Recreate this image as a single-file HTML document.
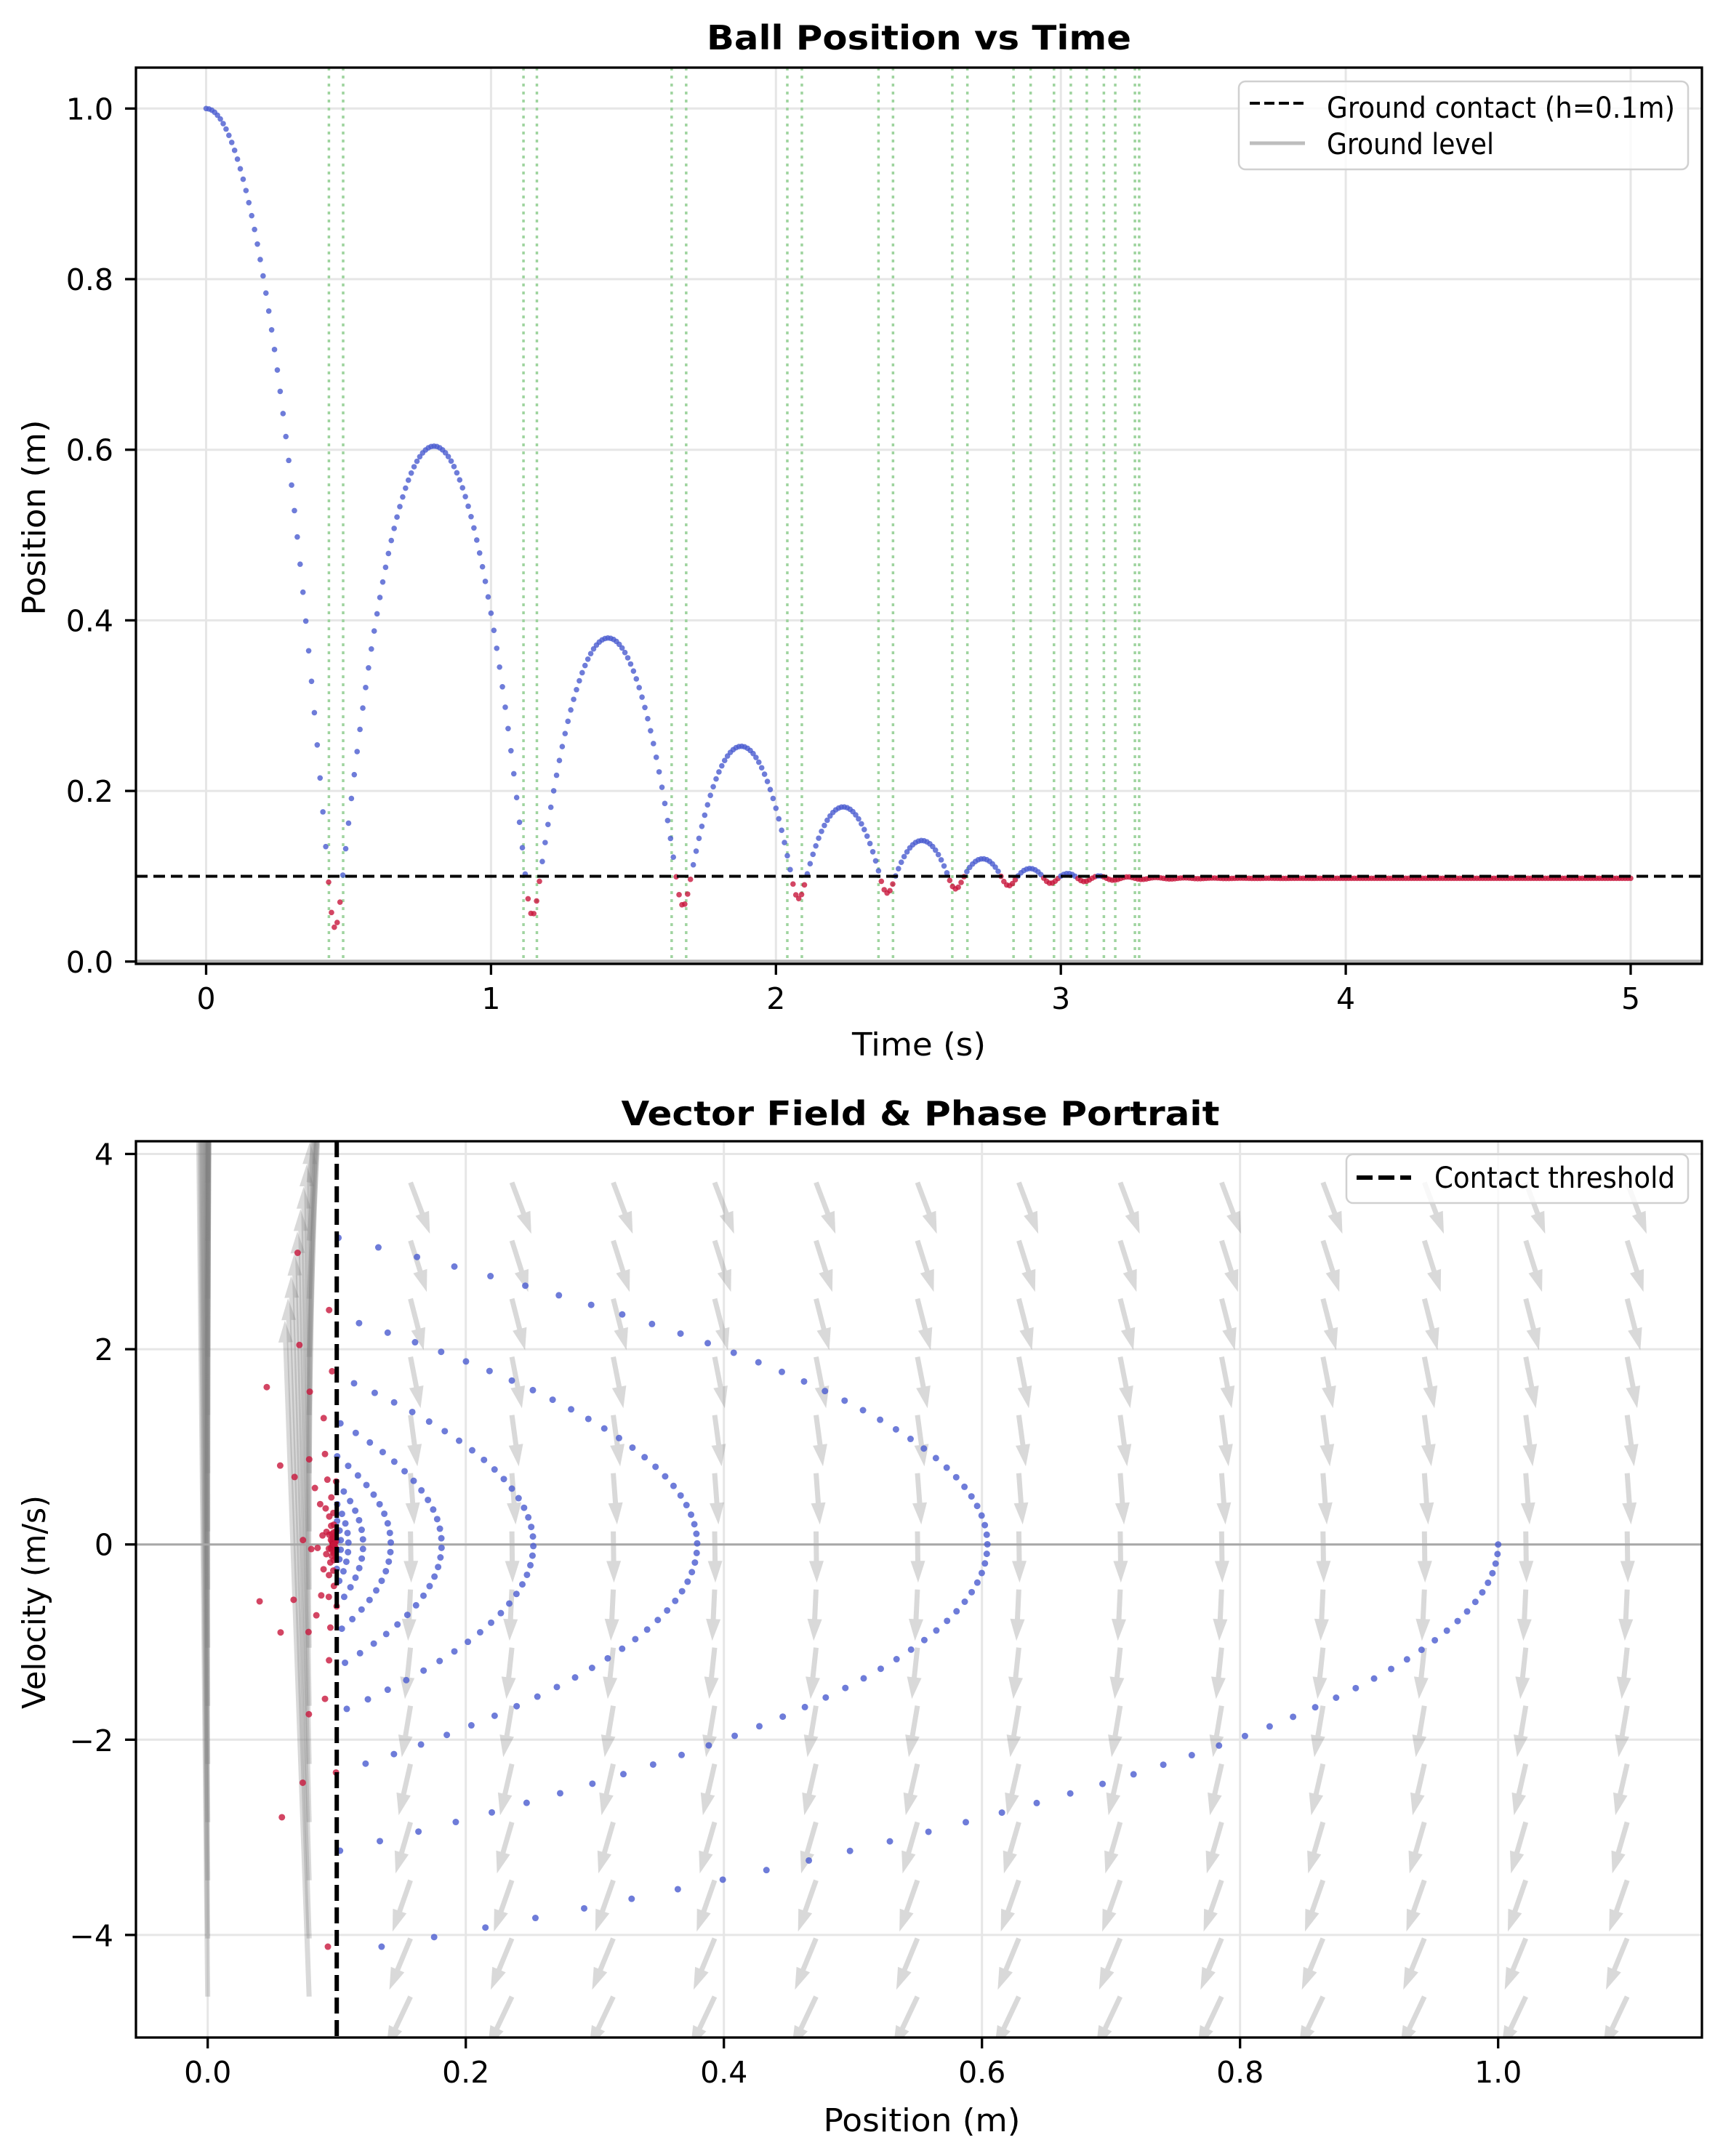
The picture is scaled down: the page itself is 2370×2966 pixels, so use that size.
<!DOCTYPE html>
<html><head><meta charset="utf-8"><style>
html,body{margin:0;padding:0;background:#fff;}
svg{display:block;}
text{font-family:"DejaVu Sans","Liberation Sans",sans-serif;fill:#000;}
</style></head><body>
<svg id="s" width="2370" height="2966" viewBox="0 0 2370 2966" xmlns="http://www.w3.org/2000/svg">
<defs>
<clipPath id="c1"><rect x="187" y="93" width="2154" height="1233"/></clipPath>
<clipPath id="c2"><rect x="187" y="1570" width="2154" height="1233"/></clipPath>
</defs>
<rect width="2370" height="2966" fill="#fff"/>
<g id="g1grid" clip-path="url(#c1)"></g>
<g id="g1data" clip-path="url(#c1)"></g>
<g id="g2grid" clip-path="url(#c2)"></g>
<g id="g2data" clip-path="url(#c2)"></g>
<g id="axes"></g>

<text x="1264" y="68" text-anchor="middle" font-weight="bold" font-size="46" textLength="584" lengthAdjust="spacingAndGlyphs">Ball Position vs Time</text>
<text x="1266" y="1548" text-anchor="middle" font-weight="bold" font-size="46" textLength="823" lengthAdjust="spacingAndGlyphs">Vector Field &amp; Phase Portrait</text>
<text x="1264" y="1452" text-anchor="middle" font-size="44" textLength="184" lengthAdjust="spacingAndGlyphs">Time (s)</text>
<text transform="translate(62,712) rotate(-90)" text-anchor="middle" font-size="44" textLength="269" lengthAdjust="spacingAndGlyphs">Position (m)</text>
<text x="1268" y="2932" text-anchor="middle" font-size="44" textLength="271" lengthAdjust="spacingAndGlyphs">Position (m)</text>
<text transform="translate(62,2204) rotate(-90)" text-anchor="middle" font-size="44" textLength="294" lengthAdjust="spacingAndGlyphs">Velocity (m/s)</text>

<g font-size="41" text-anchor="middle">
<text x="283.5" y="1388">0</text><text x="675.4" y="1388">1</text><text x="1067.3" y="1388">2</text>
<text x="1459.2" y="1388">3</text><text x="1851.1" y="1388">4</text><text x="2243" y="1388">5</text>
</g>
<g font-size="41" text-anchor="end">
<text x="156" y="1337.8">0.0</text><text x="156" y="1103.1">0.2</text><text x="156" y="868.4">0.4</text>
<text x="156" y="633.7">0.6</text><text x="156" y="399">0.8</text><text x="156" y="164.3">1.0</text>
</g>
<g font-size="41" text-anchor="middle">
<text x="285.7" y="2865">0.0</text><text x="640.7" y="2865">0.2</text><text x="995.7" y="2865">0.4</text>
<text x="1350.7" y="2865">0.6</text><text x="1705.7" y="2865">0.8</text><text x="2060.7" y="2865">1.0</text>
</g>
<g font-size="41" text-anchor="end">
<text x="156" y="2677.7">−4</text><text x="156" y="2409.1">−2</text><text x="156" y="2139.7">0</text>
<text x="156" y="1871.1">2</text><text x="156" y="1602.3">4</text>
</g>

<rect x="1704" y="112" width="618" height="121" rx="9" fill="#fff" fill-opacity="0.8" stroke="#d0d0d0" stroke-width="2.5"/>
<line x1="1719" y1="142" x2="1795" y2="142" stroke="#000" stroke-width="4" stroke-dasharray="14 6"/>
<text x="1825" y="162" font-size="40" textLength="479" lengthAdjust="spacingAndGlyphs">Ground contact (h=0.1m)</text>
<line x1="1719" y1="197" x2="1795" y2="197" stroke="#bdbdbd" stroke-width="5"/>
<text x="1825" y="212" font-size="40" textLength="230" lengthAdjust="spacingAndGlyphs">Ground level</text>

<rect x="1852" y="1588" width="470" height="67" rx="9" fill="#fff" fill-opacity="0.8" stroke="#d0d0d0" stroke-width="2.5"/>
<line x1="1866" y1="1620" x2="1941" y2="1620" stroke="#000" stroke-width="6" stroke-dasharray="22 8"/>
<text x="1973" y="1634" font-size="40" textLength="331" lengthAdjust="spacingAndGlyphs">Contact threshold</text>
</svg>
<script>
(function(){
var NS="http://www.w3.org/2000/svg";
function el(parent,tag,attrs){var e=document.createElementNS(NS,tag);for(var k in attrs)e.setAttribute(k,attrs[k]);parent.appendChild(e);return e;}
var g1g=document.getElementById('g1grid'),g1d=document.getElementById('g1data'),
    g2g=document.getElementById('g2grid'),g2d=document.getElementById('g2data'),ax=document.getElementById('axes');
function tx(t){return 283.5+391.9*t;} function ty(y){return 1322.8-1173.5*y;}
function px(x){return 285.7+1775*x;} function py(v){return 2124.7-134.3*v;}
var gc="#e6e6e6";
for(var i=0;i<=5;i++){el(g1g,'line',{x1:tx(i),y1:93,x2:tx(i),y2:1326,stroke:gc,'stroke-width':3});}
for(var j=0;j<=5;j++){el(g1g,'line',{x1:187,y1:ty(j*0.2),x2:2341,y2:ty(j*0.2),stroke:gc,'stroke-width':3});}
for(var i=0;i<=5;i++){el(g2g,'line',{x1:px(i*0.2),y1:1570,x2:px(i*0.2),y2:2803,stroke:gc,'stroke-width':3});}
for(var j=-2;j<=2;j++){el(g2g,'line',{x1:187,y1:py(j*2),x2:2341,y2:py(j*2),stroke:gc,'stroke-width':3});}

var g=9.81,K=4000,C=11.0,h0=0.1;
function acc(y,v){return y<h0? -g+K*(h0-y)-C*v : -g;}
var y=1.0,v=0.0,t=0,dt=2e-5,samples=[];
samples.push([0,y,v]);
for(var n=1;n<=500;n++){
  var tt=n*0.01;
  while(t<tt-1e-12){
    var hh=Math.min(dt,tt-t);
    var k1y=v,k1v=acc(y,v);
    var k2y=v+0.5*hh*k1v,k2v=acc(y+0.5*hh*k1y,v+0.5*hh*k1v);
    var k3y=v+0.5*hh*k2v,k3v=acc(y+0.5*hh*k2y,v+0.5*hh*k2v);
    var k4y=v+hh*k3v,k4v=acc(y+hh*k3y,v+hh*k3v);
    y+=hh/6*(k1y+2*k2y+2*k3y+k4y); v+=hh/6*(k1v+2*k2v+2*k3v+k4v); t+=hh;
  }
  samples.push([tt,y,v]);
}
var gl=[0.431,0.481,1.114,1.161,1.634,1.685,2.040,2.091,2.360,2.411,2.619,2.672,2.834,2.894,2.976,3.035,3.091,3.151,3.191,3.26,3.275];
gl.forEach(function(tv){el(g1d,'line',{x1:tx(tv),y1:93,x2:tx(tv),y2:1326,stroke:'#9fd49f','stroke-width':3.5,'stroke-dasharray':'4 7'});});
el(g1d,'line',{x1:187,y1:ty(0),x2:2341,y2:ty(0),stroke:'#b3b3b3','stroke-width':5});
var BLUE='#4a5bd0',RED='#c8163c';
samples.forEach(function(s){
  el(g1d,'circle',{cx:tx(s[0]),cy:ty(s[1]),r:3.8,fill:s[1]<h0?RED:BLUE,'fill-opacity':0.8});
});
el(g1d,'line',{x1:187,y1:ty(0.1),x2:2341,y2:ty(0.1),stroke:'#000','stroke-width':4,'stroke-dasharray':'16 8'});

var sc=7.2;
function arrow(x0,y0,dx,dy){
  var L=Math.sqrt(dx*dx+dy*dy); if(L<1)return;
  var ux=dx/L,uy=dy/L,nx=-uy,ny=ux;
  var sw=3.5,hw=10,hl=Math.min(30,L);
  var bx=x0+ux*(L-hl),by=y0+uy*(L-hl);
  var pts=[[x0+nx*sw,y0+ny*sw],[bx+nx*sw,by+ny*sw],[bx+nx*hw,by+ny*hw],[x0+dx,y0+dy],[bx-nx*hw,by-ny*hw],[bx-nx*sw,by-ny*sw],[x0-nx*sw,y0-ny*sw]];
  el(g2d,'polygon',{points:pts.map(function(p){return p[0].toFixed(1)+','+p[1].toFixed(1);}).join(' '),fill:'#808080','fill-opacity':0.3});
}
for(var i=0;i<15;i++){
  var xv=i*1.1/14;
  for(var k=0;k<15;k++){
    var Y=1626.7+80*k; var vv=(2124.7-Y)/134.3;
    var a=(xv<h0)? -g+4000*(h0-xv)-11.5*vv : -g;
    arrow(px(xv),Y,vv*sc,-a*sc);
  }
}
el(g2d,'line',{x1:187,y1:py(0),x2:2341,y2:py(0),stroke:'#a8a8a8','stroke-width':3});
samples.forEach(function(s){
  el(g2d,'circle',{cx:px(s[1]),cy:py(s[2]),r:4.5,fill:s[1]<h0?RED:BLUE,'fill-opacity':0.8});
});
el(g2d,'line',{x1:px(0.1),y1:1570,x2:px(0.1),y2:2803,stroke:'#000','stroke-width':6,'stroke-dasharray':'22 9'});

[[93,1326],[1570,2803]].forEach(function(b){
  el(ax,'rect',{x:187,y:b[0],width:2154,height:b[1]-b[0],fill:'none',stroke:'#000','stroke-width':3.3});
});
for(var i=0;i<=5;i++){el(ax,'line',{x1:tx(i),y1:1326,x2:tx(i),y2:1341,stroke:'#000','stroke-width':3.3});
  el(ax,'line',{x1:172,y1:ty(i*0.2),x2:187,y2:ty(i*0.2),stroke:'#000','stroke-width':3.3});
  el(ax,'line',{x1:px(i*0.2),y1:2803,x2:px(i*0.2),y2:2818,stroke:'#000','stroke-width':3.3});}
for(var j=-2;j<=2;j++){el(ax,'line',{x1:172,y1:py(j*2),x2:187,y2:py(j*2),stroke:'#000','stroke-width':3.3});}
})();
</script>
</body></html>
